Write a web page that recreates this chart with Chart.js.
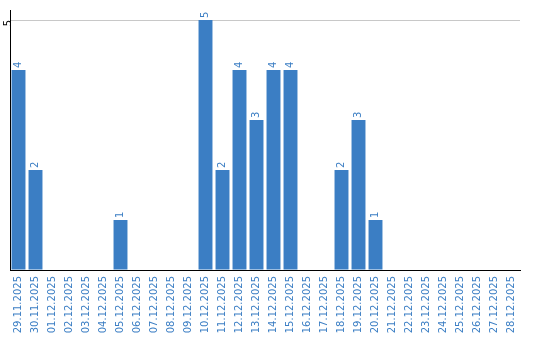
<!DOCTYPE html>
<html>
<head>
    <title>Daily count</title>
    <script src="https://cdn.jsdelivr.net/npm/chart.js"></script>
    <style>
        body { margin: 0; background: #fff; }
    </style>
</head>
<body>
    <canvas id="dayChart" width="540" height="340"></canvas>

    <script>
        // dates shown on the x axis
        var days = [
            '29.11.2025', '30.11.2025', '01.12.2025', '02.12.2025', '03.12.2025',
            '04.12.2025', '05.12.2025', '06.12.2025', '07.12.2025', '08.12.2025',
            '09.12.2025', '10.12.2025', '11.12.2025', '12.12.2025', '13.12.2025',
            '14.12.2025', '15.12.2025', '16.12.2025', '17.12.2025', '18.12.2025',
            '19.12.2025', '20.12.2025', '21.12.2025', '22.12.2025', '23.12.2025',
            '24.12.2025', '25.12.2025', '26.12.2025', '27.12.2025', '28.12.2025'
        ];
        // count per day
        var counts = [4, 2, 0, 0, 0, 0, 1, 0, 0, 0,
                      0, 5, 2, 4, 3, 4, 4, 0, 0, 2,
                      3, 1, 0, 0, 0, 0, 0, 0, 0, 0];
        var yTicks = [5];

        var blue = '#3b7ec4';

        // writes the value above each bar, turned on its side
        var valueLabels = {
            id: 'valueLabels',
            afterDatasetsDraw: function(chart) {
                var ctx = chart.ctx;
                var meta = chart.getDatasetMeta(0);
                ctx.save();
                ctx.fillStyle = blue;
                ctx.font = '10px "DejaVu Sans"';
                ctx.textAlign = 'left';
                ctx.textBaseline = 'middle';
                meta.data.forEach(function(bar, i) {
                    var v = counts[i];
                    if (!v) return;
                    ctx.save();
                    ctx.translate(bar.x, bar.y - 2);
                    ctx.rotate(-Math.PI / 2);
                    ctx.fillText(String(v), 0, 0);
                    ctx.restore();
                });
                ctx.restore();
            }
        };

        new Chart(document.getElementById('dayChart').getContext('2d'), {
            type: 'bar',
            data: {
                labels: days,
                datasets: [{
                    data: counts,
                    backgroundColor: blue,
                    borderWidth: 0,
                    categoryPercentage: 1,
                    barPercentage: 0.82
                }]
            },
            options: {
                responsive: false,
                animation: false,
                plugins: {
                    legend: { display: false },
                    tooltip: { enabled: false }
                },
                layout: { padding: { top: 10, right: 20, left: 0, bottom: 0 } },
                scales: {
                    x: {
                        grid: { display: false, drawTicks: false },
                        border: { color: '#000', width: 1 },
                        ticks: {
                            color: blue,
                            font: { family: 'DejaVu Sans', size: 10 },
                            minRotation: 90,
                            maxRotation: 90,
                            autoSkip: false,
                            padding: 6
                        },
                        afterFit: function(scale) { scale.height = 70; }
                    },
                    y: {
                        min: 0,
                        max: 5.2,
                        afterBuildTicks: function(scale) {
                            scale.ticks = [{ value: 0 }].concat(yTicks.map(function(v) { return { value: v }; }));
                        },
                        grid: {
                            drawTicks: false,
                            color: function(c) { return c.tick && c.tick.value === 0 ? 'rgba(0,0,0,0)' : '#c8c8c8'; }
                        },
                        border: { color: '#000', width: 1 },
                        ticks: {
                            color: '#000',
                            font: { family: 'DejaVu Sans', size: 10 },
                            minRotation: 90,
                            padding: 2,
                            labelOffset: 0,
                            callback: function(v) { return v === 0 ? '' : v; }
                        },
                        afterFit: function(scale) { scale.width = 10; }
                    }
                }
            },
            plugins: [valueLabels]
        });
    </script>
</body>
</html>
